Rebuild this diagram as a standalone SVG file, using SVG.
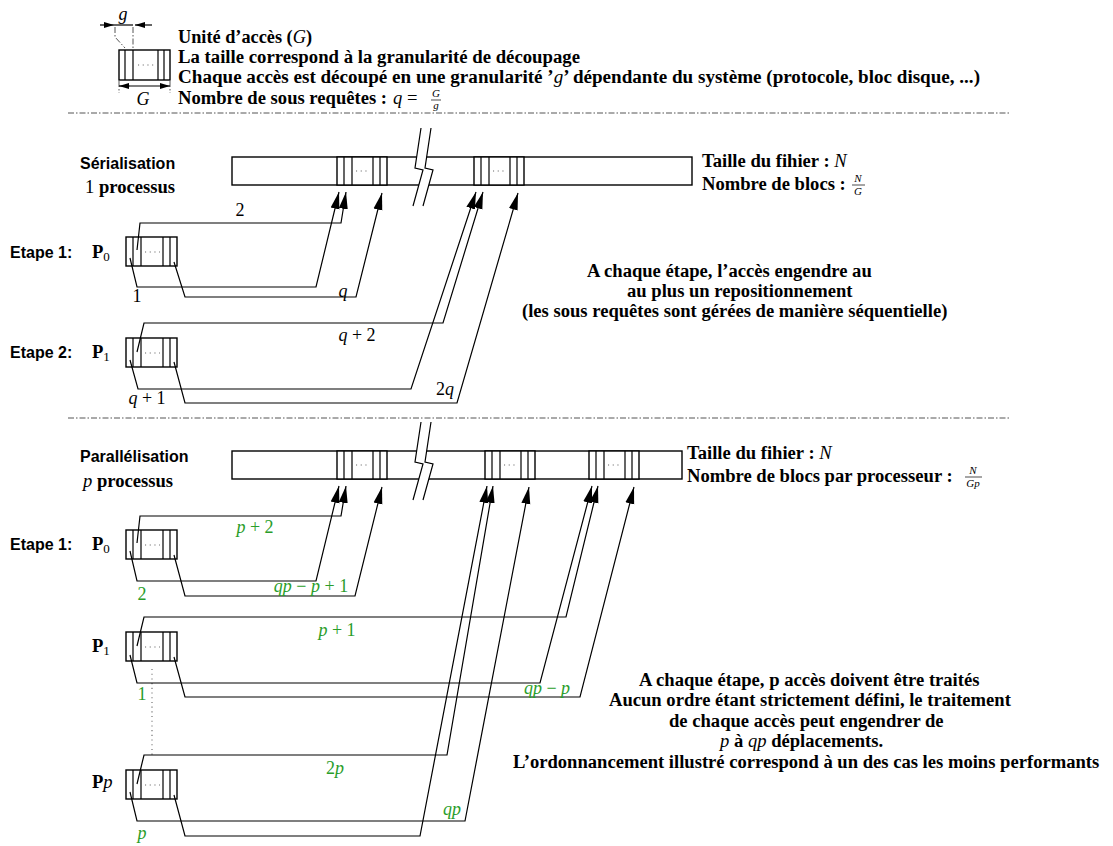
<svg xmlns="http://www.w3.org/2000/svg" xmlns:xlink="http://www.w3.org/1999/xlink" width="1113" height="846" viewBox="0 0 1113 846">
<style>
.t{font-family:"Liberation Serif",serif;font-weight:bold;font-size:18.6px;fill:#000}
.s{font-family:"Liberation Sans",sans-serif;font-weight:bold;font-size:16px;fill:#000}
.m{font-family:"Liberation Serif",serif;font-style:italic;font-weight:normal}
.r{font-family:"Liberation Serif",serif;font-style:normal;font-weight:normal}
.sub{font-family:"Liberation Serif",serif;font-weight:normal;font-style:normal;font-size:13px}
.fr{font-family:"Liberation Serif",serif;font-style:italic;font-weight:normal;font-size:11px}
.lab{font-family:"Liberation Serif",serif;font-size:18px;fill:#000}
.g{fill:#2a9d2a}
.ln{fill:none;stroke:#000;stroke-width:1.2}
.bx{fill:#fff;stroke:#000;stroke-width:1.4}
.dd{fill:none;stroke:#555;stroke-width:1;stroke-dasharray:6 2 1.5 2}
.dots{fill:none;stroke:#666;stroke-width:1.1;stroke-dasharray:1.1 3.6}
.conn path{fill:none;stroke:#000;stroke-width:1.2;marker-end:url(#ah)}
</style>
<defs>
<marker id="ah" markerUnits="userSpaceOnUse" markerWidth="17" markerHeight="10" refX="17" refY="4.5" orient="auto" viewBox="0 0 17 9">
<path d="M0,0 L17,4.5 L0,9 Z" fill="#000"/>
</marker>
<marker id="sa" markerUnits="userSpaceOnUse" markerWidth="10" markerHeight="6" refX="10" refY="3" orient="auto" viewBox="0 0 10 6">
<path d="M0,0 L10,3 L0,6 Z" fill="#000"/>
</marker>
<g id="blk">
<rect x="0" y="0" width="50" height="28" class="bx"/>
<path d="M7,0 V28 M15,0 V28 M36,0 V28 M43,0 V28" class="ln"/>
<path d="M19,14 H33" class="dots"/>
</g>
<g id="pblk">
<rect x="0" y="0" width="51" height="29" class="bx"/>
<path d="M7,0 V29 M15,0 V29 M37,0 V29 M44,0 V29" class="ln"/>
<path d="M19,15 H34" class="dots"/>
</g>
<g id="brk">
<path d="M8,0 L2,40 L10,42 L0,78 L10,78 L20,42 L12,40 L18,0 Z" fill="#fff" stroke="none"/>
<path d="M8,0 L2,40 L10,42 L0,78 M18,0 L12,40 L20,42 L10,78" class="ln"/>
</g>
</defs>

<!-- Legend -->
<g id="legend">
<rect x="119" y="50" width="51" height="30" class="bx"/>
<path d="M125,50 V80 M133,50 V80 M158,50 V80 M164,50 V80" class="ln"/>
<path d="M138,65 H154" class="dots"/>
<path d="M100,25 H114" class="ln" marker-end="url(#sa)"/>
<path d="M114,25 H133" class="ln"/>
<path d="M152,25 H135" class="ln" marker-end="url(#sa)"/>
<path d="M115,27 V37 L125,48" class="dd"/>
<path d="M133,27 V50" class="dd"/>
<path d="M119,81 V93 M170,81 V93" class="dd"/>
<path d="M130,86 H119" class="ln" marker-end="url(#sa)"/>
<path d="M130,86 H170" class="ln" marker-end="url(#sa)"/>
<text x="123" y="20" class="m" font-size="18" text-anchor="middle">g</text>
<text x="143" y="105" class="m" font-size="18" text-anchor="middle">G</text>
<text x="178" y="43" class="t" textLength="134" lengthAdjust="spacingAndGlyphs">Unité d’accès (<tspan class="m">G</tspan>)</text>
<text x="178" y="63" class="t" textLength="402" lengthAdjust="spacingAndGlyphs">La taille correspond à la granularité de découpage</text>
<text x="178" y="83" class="t" textLength="802" lengthAdjust="spacingAndGlyphs">Chaque accès est découpé en une granularité ’<tspan class="m">g</tspan>’ dépendante du système (protocole, bloc disque, ...)</text>
<text x="178" y="104" class="t">Nombre de sous requêtes :</text>
<text x="393" y="104" class="t"><tspan class="m">q</tspan> <tspan class="r">=</tspan></text>
<text x="436" y="97" class="fr" text-anchor="middle">G</text>
<path d="M431,100 H441" stroke="#000" stroke-width="0.7"/>
<text x="436" y="109" class="fr" text-anchor="middle">g</text>
</g>

<path d="M68,113 H1010" class="dd"/>
<path d="M68,418 H1010" class="dd"/>

<!-- Serialisation -->
<g id="serial-titles">
<text x="80" y="169" class="s" font-size="16.5">Sérialisation</text>
<text x="85" y="193" class="t"><tspan class="r">1</tspan> processus</text>
<text x="10" y="258" class="s">Etape 1:</text>
<text x="10" y="358" class="s">Etape 2:</text>
</g>
<g id="serial-file">
<rect x="232" y="157" width="460" height="28" class="bx"/>
<use xlink:href="#blk" x="337" y="157"/>
<use xlink:href="#blk" x="474" y="157"/>
<use xlink:href="#brk" x="413" y="128"/>
<text x="702" y="167" class="t">Taille du fihier : <tspan class="m">N</tspan></text>
<text x="702" y="190" class="t">Nombre de blocs :</text>
<text x="858" y="182" class="fr" text-anchor="middle">N</text>
<path d="M852,185 H865" stroke="#000" stroke-width="0.7"/>
<text x="858" y="195" class="fr" text-anchor="middle">G</text>
</g>
<g id="s-p0">
<text x="92" y="258" class="t">P<tspan class="sub" dy="3">0</tspan></text>
<use xlink:href="#pblk" x="126" y="237"/>
</g>
<g id="s-p1">
<text x="92" y="358" class="t">P<tspan class="sub" dy="3">1</tspan></text>
<use xlink:href="#pblk" x="126" y="338"/>
</g>
<g id="serial-note">
<text x="587" y="277" class="t">A chaque étape, l’accès engendre au</text>
<text x="627" y="297" class="t">au plus un repositionnement</text>
<text x="522" y="317" class="t">(les sous requêtes sont gérées de manière séquentielle)</text>
</g>

<!-- Parallelisation -->
<g id="par-titles">
<text x="80" y="462" class="s" font-size="16.5">Parallélisation</text>
<text x="83" y="487" class="t"><tspan class="m">p</tspan> processus</text>
<text x="10" y="550" class="s">Etape 1:</text>
</g>
<g id="par-file">
<rect x="232" y="451" width="450" height="28" class="bx"/>
<use xlink:href="#blk" x="337" y="451"/>
<use xlink:href="#blk" x="485" y="451"/>
<use xlink:href="#blk" x="589" y="451"/>
<use xlink:href="#brk" x="413" y="422"/>
<text x="687" y="459" class="t">Taille du fihier : <tspan class="m">N</tspan></text>
<text x="687" y="482" class="t">Nombre de blocs par processeur :</text>
<text x="973" y="474" class="fr" text-anchor="middle">N</text>
<path d="M965,477 H982" stroke="#000" stroke-width="0.7"/>
<text x="973" y="487" class="fr" text-anchor="middle">Gp</text>
</g>
<g id="p-p0">
<text x="92" y="550" class="t">P<tspan class="sub" dy="3">0</tspan></text>
<use xlink:href="#pblk" x="126" y="530"/>
</g>
<g id="p-p1">
<text x="92" y="652" class="t">P<tspan class="sub" dy="3">1</tspan></text>
<use xlink:href="#pblk" x="126" y="632"/>
</g>
<g id="p-pp">
<text x="92" y="788" class="t">P<tspan class="m">p</tspan></text>
<use xlink:href="#pblk" x="126" y="770"/>
</g>
<path d="M152,669 V757" class="dots"/>
<g id="par-note">
<text x="639" y="686" class="t">A chaque étape, p accès doivent être traités</text>
<text x="609" y="706" class="t">Aucun ordre étant strictement défini, le traitement</text>
<text x="669" y="727" class="t">de chaque accès peut engendrer de</text>
<text x="720" y="747" class="t"><tspan class="m">p</tspan> à <tspan class="m">qp</tspan> déplacements.</text>
<text x="513" y="768" class="t">L’ordonnancement illustré correspond à un des cas les moins performants</text>
</g>

<!-- Connectors -->
<g id="connectors" class="conn">
<path d="M130,258 L137,287 L316,287 L339,192"/>
<path d="M137,250 L140,223 L341,223 L346,192"/>
<path d="M174,262 L185,297 L356,297 L382,193"/>
<path d="M130,360 L138,389 L411,389 L476,192"/>
<path d="M137,352 L144,323 L443,323 L483,192"/>
<path d="M174,362 L185,403 L457,403 L518,193"/>
<path d="M130,551 L137,581 L316,581 L339,486"/>
<path d="M137,543 L140,516 L341,516 L346,486"/>
<path d="M174,555 L185,596 L355,596 L382,487"/>
<path d="M130,655 L137,683 L540,683 L592,486"/>
<path d="M137,646 L144,617 L566,617 L598,486"/>
<path d="M174,657 L185,697 L580,697 L634,487"/>
<path d="M130,792 L137,821 L465,821 L529,487"/>
<path d="M137,784 L144,755 L447,755 L493,486"/>
<path d="M174,795 L185,836 L420,836 L487,486"/>
</g>

<!-- Connector labels -->
<g id="labels" class="lab">
<text x="240" y="216" text-anchor="middle" class="r">2</text>
<text x="137" y="302" text-anchor="middle" class="r">1</text>
<text x="343" y="297" text-anchor="middle" class="m">q</text>
<text x="357" y="341" text-anchor="middle"><tspan class="m">q</tspan> + 2</text>
<text x="147" y="404" text-anchor="middle"><tspan class="m">q</tspan> + 1</text>
<text x="445" y="395" text-anchor="middle">2<tspan class="m">q</tspan></text>
<g class="g">
<text x="255" y="533" text-anchor="middle"><tspan class="m">p</tspan> + 2</text>
<text x="142" y="600" text-anchor="middle">2</text>
<text x="311" y="592" text-anchor="middle"><tspan class="m">qp</tspan> − <tspan class="m">p</tspan> + 1</text>
<text x="337" y="636" text-anchor="middle"><tspan class="m">p</tspan> + 1</text>
<text x="142" y="700" text-anchor="middle">1</text>
<text x="547" y="694" text-anchor="middle"><tspan class="m">qp</tspan> − <tspan class="m">p</tspan></text>
<text x="335" y="774" text-anchor="middle">2<tspan class="m">p</tspan></text>
<text x="142" y="839" text-anchor="middle" class="m">p</text>
<text x="452" y="815" text-anchor="middle" class="m">qp</text>
</g>
</g>
</svg>
